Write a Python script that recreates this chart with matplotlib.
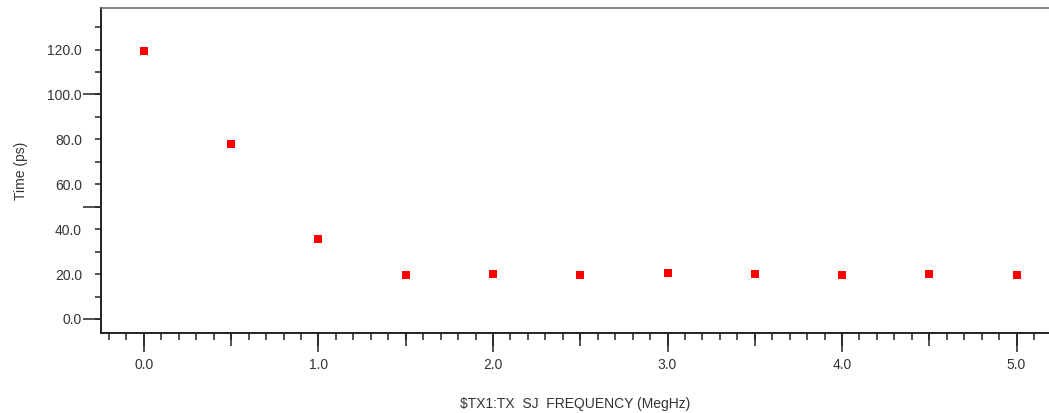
import matplotlib.pyplot as plt
from matplotlib.ticker import MultipleLocator, FormatStrFormatter

plt.rcParams['font.family'] = ['Liberation Sans', 'DejaVu Sans']

# sweep of the sinusoidal jitter frequency (MHz) vs measured time (ps)
sj_freq = [0.0, 0.5, 1.0, 1.5, 2.0, 2.5, 3.0, 3.5, 4.0, 4.5, 5.0]
time_ps = [119.4, 77.8, 35.6, 19.5, 19.9, 19.5, 20.3, 19.9, 19.5, 19.9, 19.5]

x_label = '$TX1:TX  SJ  FREQUENCY (MegHz)'
y_label = 'Time (ps)'

text_col = '#333333'
axis_col = '#222222'

fig = plt.figure(figsize=(10.49, 4.13), dpi=100)
ax = fig.add_axes([0.0963, 0.1937, 0.9037, 0.7869])

ax.plot(sj_freq, time_ps, linestyle='none', marker='s', markersize=5.8,
        color='#ff0000', markeredgewidth=0)

ax.set_xlim(-0.246, 5.186)
ax.set_ylim(-6.24, 138.5)

# spines
for side in ['left', 'bottom']:
    ax.spines[side].set_color(axis_col)
    ax.spines[side].set_linewidth(1.4)
ax.spines['top'].set_color('#666666')
ax.spines['top'].set_linewidth(1.1)
ax.spines['right'].set_visible(False)

# x ticks: long at integers, medium at halves, short every 0.1
ax.xaxis.set_major_locator(MultipleLocator(1.0))
ax.xaxis.set_minor_locator(MultipleLocator(0.1))
ax.xaxis.set_major_formatter(FormatStrFormatter('%.1f'))
ax.tick_params(axis='x', which='major', direction='out', length=13.7, width=1.1,
               color=axis_col, pad=4, labelsize=10, labelcolor=text_col)
ax.tick_params(axis='x', which='minor', direction='out', length=5, width=1.1,
               color=axis_col)
sec_x = ax.secondary_xaxis('bottom')
sec_x.xaxis.set_major_locator(MultipleLocator(0.5))
sec_x.tick_params(axis='x', direction='out', length=9.4, width=1.1,
                  color=axis_col, labelbottom=False)
sec_x.spines['bottom'].set_visible(False)

# y ticks: labels every 20, short every 10, long at 0/50/100
ax.yaxis.set_major_locator(MultipleLocator(20))
ax.yaxis.set_minor_locator(MultipleLocator(10))
ax.yaxis.set_major_formatter(FormatStrFormatter('%.1f'))
ax.tick_params(axis='y', which='major', direction='out', length=4.3, width=1.1,
               color=axis_col, pad=9.4, labelsize=10, labelcolor=text_col)
ax.tick_params(axis='y', which='minor', direction='out', length=4.3, width=1.1,
               color=axis_col)
sec_y = ax.secondary_yaxis('left')
sec_y.yaxis.set_major_locator(MultipleLocator(50))
sec_y.tick_params(axis='y', direction='out', length=13, width=1.1,
                  color=axis_col, labelleft=False)
sec_y.spines['left'].set_visible(False)

ax.set_xlabel(x_label, fontsize=10, color=text_col, labelpad=18)
ax.set_ylabel(y_label, fontsize=10, color=text_col, labelpad=14)

fig.savefig('out.png', dpi=100)
